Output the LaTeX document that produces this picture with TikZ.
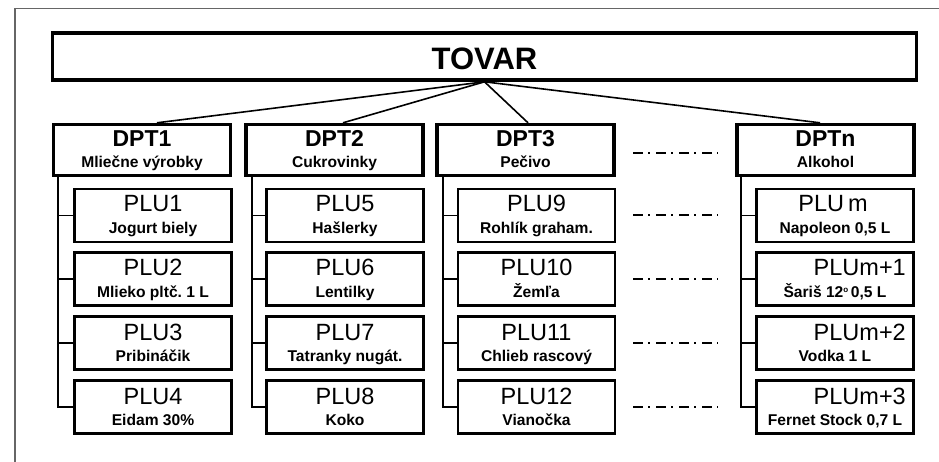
\documentclass[tikz,border=0pt]{standalone}
\usepackage{fontspec}
\setmainfont{Liberation Sans}
\begin{document}
\frenchspacing
\begin{tikzpicture}[x=1pt,y=-1pt,
  frameline/.style={draw=black!60,line width=1.3pt},
  topbox/.style={draw,line width=3.6pt,minimum width=864pt,minimum height=47pt,inner sep=0pt},
  dptbox/.style={draw,line width=3.4pt,minimum width=177pt,minimum height=51pt,inner sep=0pt},
  plubox/.style={draw,line width=2.1pt,minimum width=157pt,minimum height=53pt,inner sep=0pt},
  link/.style={line width=1.6pt},
  tree/.style={line width=1.2pt},
  dots/.style={line width=2pt,dash pattern=on 10pt off 5pt on 2pt off 6pt},
  ttl/.style={anchor=base,inner sep=0pt,font=\fontsize{31}{31}\selectfont\bfseries},
  dtl/.style={anchor=base,inner sep=0pt,font=\fontsize{23}{23}\selectfont\bfseries},
  sub/.style={anchor=base,inner sep=0pt,font=\fontsize{15.6}{15.6}\selectfont\bfseries},
  plu/.style={anchor=base,inner sep=0pt,font=\fontsize{23.5}{23.5}\selectfont},
]
\useasboundingbox (0,0) rectangle (939,462);
\fill[white] (0,0) rectangle (939,462);
\draw[frameline] (15,462) -- (15,8.5) -- (939,8.5);

\node[topbox] (top) at (484.5,56.5) {};
\node[ttl] (toptext) at (484.5,70) {TOVAR};

% departments
\node[dptbox] (d1) at (142,150) {};
\node[dptbox] (d2) at (334.5,150) {};
\node[dptbox] (d3) at (525.5,150) {};
\node[dptbox] (dn) at (825.5,150) {};
\node[dtl] at (142,147) {DPT1};
\node[sub] at (142,168) {Mliečne výrobky};
\node[dtl] at (334.5,147) {DPT2};
\node[sub] at (334.5,168) {Cukrovinky};
\node[dtl] at (525.5,147) {DPT3};
\node[sub] at (525.5,168) {Pečivo};
\node[dtl] at (825.5,147) {DPTn};
\node[sub] at (825.5,168) {Alkohol};

\foreach \d/\x in {d1/157,d2/343,d3/528,dn/820}
  \draw[link] (top.south) -- (\d.north -| \x,0);

% PLU boxes
\foreach \c/\cx in {a/153,b/345,c/536.5,n/835}{
  \foreach \r/\ry in {1/215.5,2/279,3/343,4/407}{
    \node[plubox] (p\c\r) at (\cx,\ry) {};
  }
}
% tree lines
\foreach \c/\d/\tx in {a/d1/58,b/d2/252,c/d3/443,n/dn/741}{
  \draw[tree] (\d.south -| \tx,0) -- (p\c4.west -| \tx,0) -- (p\c4.west);
  \foreach \r in {1,2,3}
    \draw[tree] (p\c\r.west -| \tx,0) -- (p\c\r.west);
}

% texts
\newcommand{\plutext}[4]{%
  \node[plu] at (#1,#2+24) {#3};
  \node[sub] at (#1,#2+45.5) {#4};}
\plutext{153}{188}{PLU1}{Jogurt biely}
\plutext{153}{252}{PLU2}{Mlieko pltč. 1 L}
\plutext{153}{316}{PLU3}{Pribináčik}
\plutext{153}{380}{PLU4}{Eidam 30\%}
\plutext{345}{188}{PLU5}{Hašlerky}
\plutext{345}{252}{PLU6}{Lentilky}
\plutext{345}{316}{PLU7}{Tatranky nugát.}
\plutext{345}{380}{PLU8}{Koko}
\plutext{536.5}{188}{PLU9}{Rohlík graham.}
\plutext{536.5}{252}{PLU10}{Žemľa}
\plutext{536.5}{316}{PLU11}{Chlieb rascový}
\plutext{536.5}{380}{PLU12}{Vianočka}
\node[plu] at (833,212) {PLU\,m};
\node[sub] at (835,233.5) {Napoleon 0,5 L};
\node[plu,anchor=base east] at (906,276) {PLUm+1};
\node[sub] at (835,297.5) {Šariš 12\raisebox{0.55ex}{\fontsize{8}{8}\selectfont o}\,0,5 L};
\node[plu,anchor=base east] at (906,340) {PLUm+2};
\node[sub] at (835,361.5) {Vodka 1 L};
\node[plu,anchor=base east] at (906,404) {PLUm+3};
\node[sub] at (835,425.5) {Fernet Stock 0,7 L};

% continuation marks
\coordinate (g0a) at (633,153);
\coordinate (g0b) at (718,153);
\draw[dots] (g0a) -- (g0b);
\foreach \r in {1,2,3,4}{
  \coordinate (ga\r) at (633,0 |- pc\r.east);
  \coordinate (gb\r) at (718,0 |- pc\r.east);
  \draw[dots] (ga\r) -- (gb\r);
}
\end{tikzpicture}
\end{document}
